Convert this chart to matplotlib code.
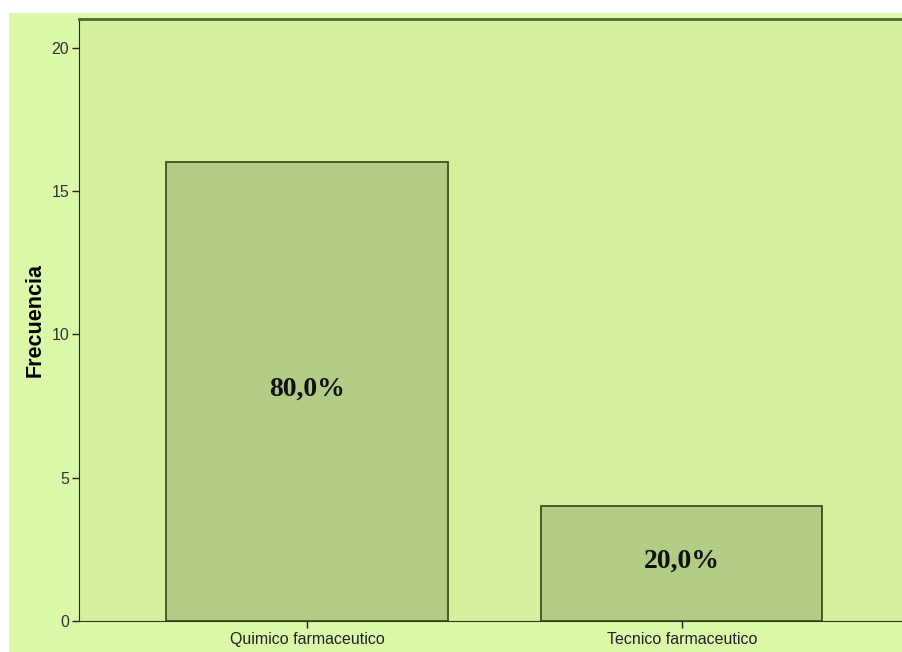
import matplotlib
matplotlib.use('Agg')
import matplotlib.pyplot as plt

categorias = ['Quimico farmaceutico', 'Tecnico farmaceutico']
frecuencias = [16, 4]
porcentajes = ['80,0%', '20,0%']

fig = plt.figure(figsize=(9.03, 6.52), dpi=100)
fig.patch.set_facecolor('white')
# light frame behind the plot, leaving a thin white margin top/left
bg = fig.add_axes([9 / 903, 0, 1 - 9 / 903, 1 - 13 / 652])
bg.set_facecolor('#dcf9a9')
bg.set_xticks([])
bg.set_yticks([])
for s in bg.spines.values():
    s.set_visible(False)

ax = fig.add_axes([79 / 903, 1 - 621 / 652, 1 - 79 / 903, (621 - 19) / 652])
ax.set_facecolor('#d4f09c')

x = list(range(len(categorias)))
ax.bar(x, frecuencias, width=0.75, color='#b3cc85', edgecolor='#3a5220', linewidth=1.3, zorder=2)
for xi, f, p in zip(x, frecuencias, porcentajes):
    ax.annotate(p, (xi, f / 2), xytext=(0, 2), textcoords='offset points',
                ha='center', va='center', fontsize=20, fontweight='bold',
                family='Liberation Serif', color='#111111', zorder=3)

ax.set_xlim(-0.608, 1.59)
ax.set_ylim(0, 21)
ax.set_xticks(x)
ax.set_xticklabels(categorias, fontsize=11.5, color='#222222', family='Liberation Sans')
ax.set_yticks([0, 5, 10, 15, 20])
ax.set_yticklabels(['0', '5', '10', '15', '20'], fontsize=11.5, color='#333333', family='Liberation Sans')
ax.tick_params(axis='y', length=5, width=1, color='#222222', pad=2)
ax.tick_params(axis='x', length=5, width=1, color='#222222', pad=3)
ax.set_ylabel('Frecuencia', fontsize=15.5, fontweight='bold', family='Liberation Sans', labelpad=4)

ax.spines['right'].set_visible(False)
ax.spines['top'].set_color('#4d6b2a')
ax.spines['top'].set_linewidth(2)
ax.spines['left'].set_color('#222222')
ax.spines['bottom'].set_color('#2a3a1a')

fig.savefig('out.png', dpi=100, facecolor=fig.get_facecolor())
